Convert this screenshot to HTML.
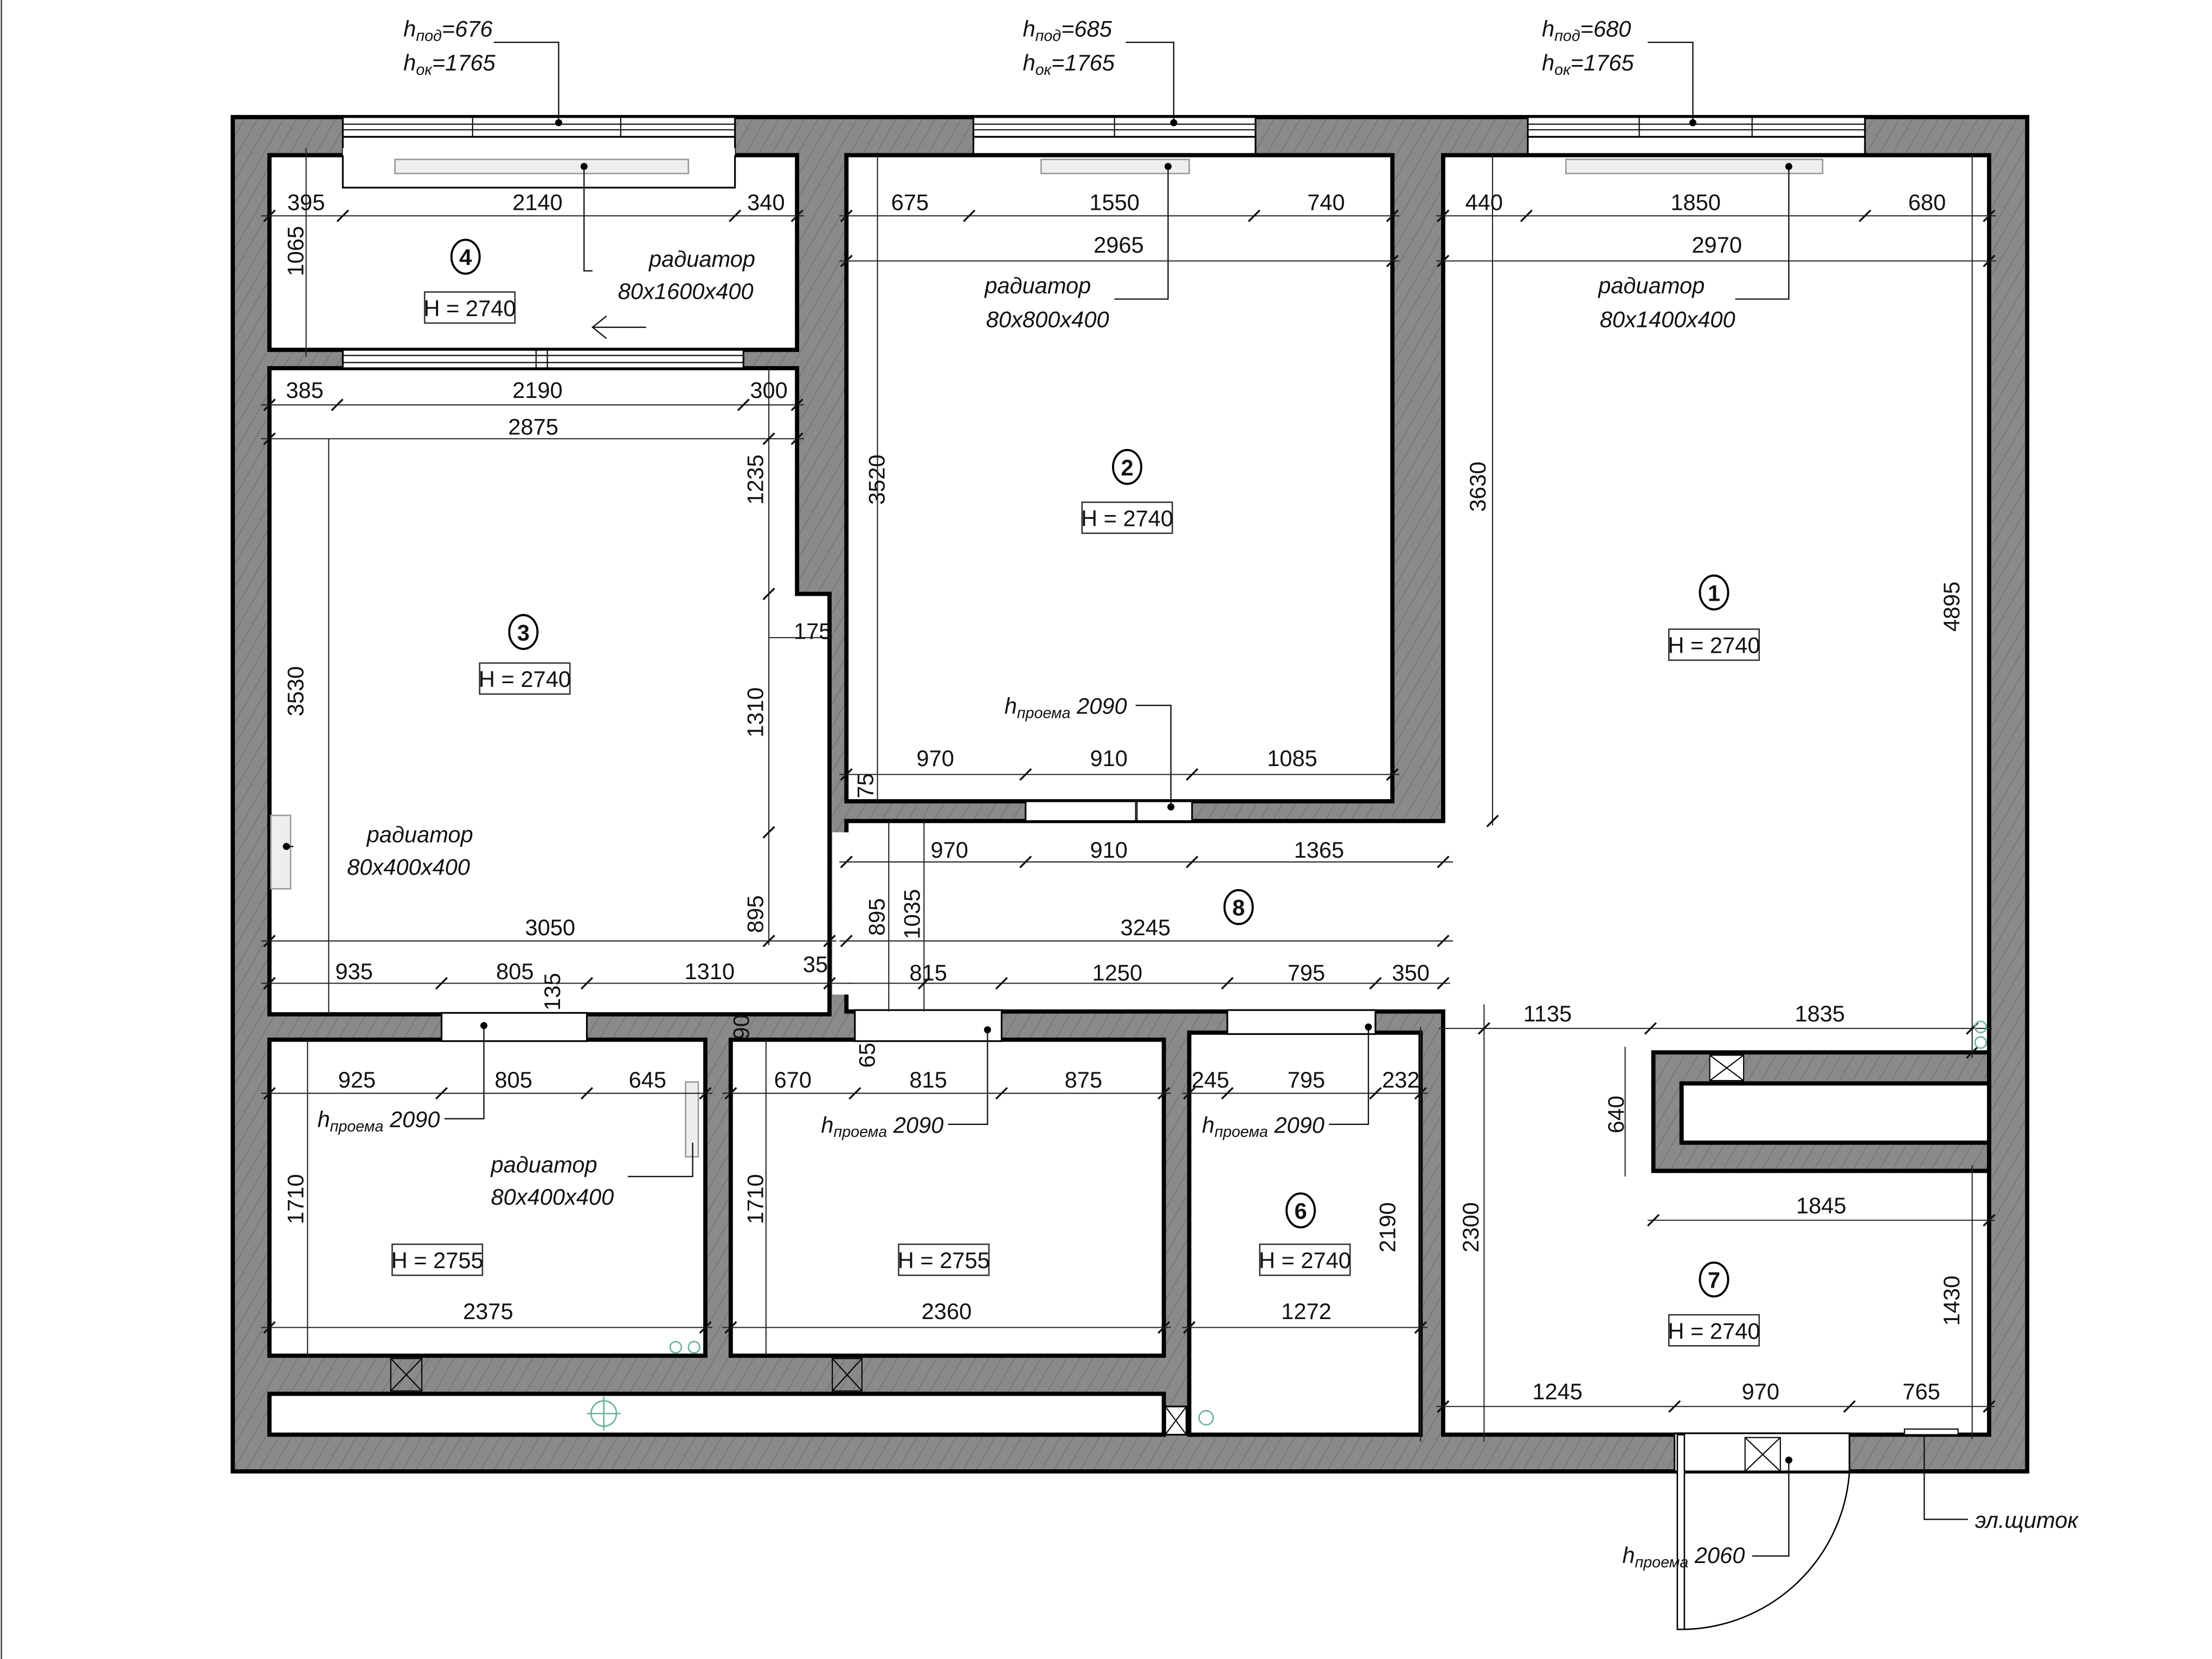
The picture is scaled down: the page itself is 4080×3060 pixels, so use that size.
<!DOCTYPE html>
<html><head><meta charset="utf-8"><style>
html,body{margin:0;padding:0;background:#fff}
svg{display:block}
text{font-family:"Liberation Sans Narrow","Liberation Sans",sans-serif;font-size:16px;fill:#111}
.i{font-style:italic}
.d{stroke:#222;stroke-width:0.8;fill:none}
.t{stroke:#111;stroke-width:1.3}
.w{fill:#fff;stroke:#000;stroke-width:3}
</style></head><body>
<svg width="4080" height="3060" viewBox="0 0 1568 1176" xmlns="http://www.w3.org/2000/svg">
<defs>
<pattern id="h" width="8" height="8" patternUnits="userSpaceOnUse" patternTransform="rotate(30)">
<rect width="8" height="8" fill="#8a8a8a"/><line x1="0" y1="0" x2="0" y2="8" stroke="#6e6e6e" stroke-width="1"/>
</pattern>
</defs>
<line x1="1" y1="0" x2="1" y2="1176" stroke="#444" stroke-width="1"/>
<!-- outer wall mass -->
<rect x="165" y="83" width="1272" height="960" fill="url(#h)" stroke="#000" stroke-width="3"/>
<!-- windows in outer wall -->
<g fill="#fff" stroke="#000" stroke-width="1.2">
<rect x="243" y="83" width="278" height="14"/><rect x="690" y="83" width="200" height="14"/><rect x="1083" y="83" width="239" height="14"/>
<rect x="243" y="97" width="278" height="36"/><rect x="690" y="97" width="200" height="13"/><rect x="1083" y="97" width="239" height="13"/>
</g>
<g stroke="#000" stroke-width="0.8">
<line x1="243" y1="88" x2="521" y2="88"/><line x1="243" y1="92" x2="521" y2="92"/>
<line x1="690" y1="88" x2="890" y2="88"/><line x1="690" y1="92" x2="890" y2="92"/>
<line x1="1083" y1="88" x2="1322" y2="88"/><line x1="1083" y1="92" x2="1322" y2="92"/>
<line x1="335" y1="83" x2="335" y2="97"/><line x1="440" y1="83" x2="440" y2="97"/>
<line x1="790" y1="83" x2="790" y2="97"/><line x1="1162" y1="83" x2="1162" y2="97"/><line x1="1242" y1="83" x2="1242" y2="97"/>
</g>
<!-- rooms -->
<rect class="w" x="191" y="110" width="374" height="138"/>
<rect x="243" y="105" width="278" height="28" fill="#fff"/>
<path d="M243 110 V133 H521 V110" fill="none" stroke="#000" stroke-width="1.2"/>
<polygon class="w" points="191,261 565,261 565,421 588,421 588,719 191,719"/>
<rect class="w" x="600" y="110" width="387" height="458"/>
<polygon class="w" points="1023,110 1410,110 1410,746 1172,746 1172,830 1410,830 1410,1017 1023,1017 1023,717 600,717 600,582 1023,582"/>
<rect x="1174" y="748" width="236" height="80" fill="url(#h)"/>
<rect class="w" x="1192" y="768" width="218" height="42"/>
<line x1="1410" y1="746" x2="1410" y2="830" stroke="#000" stroke-width="3"/>
<rect class="w" x="191" y="737" width="309" height="224"/>
<rect class="w" x="518" y="737" width="307" height="224"/>
<rect class="w" x="843" y="732" width="164" height="285"/>
<rect class="w" x="191" y="988" width="634" height="29"/>
<!-- openings -->
<g fill="#fff" stroke="#000" stroke-width="1.2">
<rect x="243" y="248" width="284" height="13"/>
<rect x="727" y="568" width="118" height="14"/>
<rect x="590" y="590" width="12" height="115" stroke="none"/>
<rect x="313" y="718" width="103" height="20"/>
<rect x="606" y="716" width="104" height="22"/>
<rect x="870" y="716" width="105" height="17"/>
<rect x="1187" y="1016" width="124" height="27"/>
<rect x="826" y="997" width="15" height="20"/>
</g>
<g stroke="#000" stroke-width="0.8" fill="none">
<line x1="243" y1="252" x2="527" y2="252"/><line x1="243" y1="257" x2="527" y2="257"/>
<rect x="380" y="248" width="8" height="13"/><rect x="805" y="568" width="1" height="14"/>
<rect x="277" y="963" width="22" height="23"/><line x1="277" y1="963" x2="299" y2="986"/><line x1="299" y1="963" x2="277" y2="986"/>
<rect x="590" y="963" width="21" height="23"/><line x1="590" y1="963" x2="611" y2="986"/><line x1="611" y1="963" x2="590" y2="986"/>
<rect x="1212" y="748" width="24" height="18" fill="#fff"/><line x1="1212" y1="748" x2="1236" y2="766"/><line x1="1236" y1="748" x2="1212" y2="766"/>
<line x1="826" y1="997" x2="841" y2="1017"/><line x1="841" y1="997" x2="826" y2="1017"/>
<rect x="1237" y="1019" width="25" height="24"/><line x1="1237" y1="1019" x2="1262" y2="1043"/><line x1="1262" y1="1019" x2="1237" y2="1043"/>
<rect x="1189" y="1017" width="5" height="138" fill="#fff" stroke-width="1"/>
<path d="M1311 1043 A120 120 0 0 1 1194 1155" stroke-width="1"/>
<rect x="1350" y="1013" width="38" height="4" fill="#fff"/>
</g>
<!-- radiators -->
<g fill="#eee" stroke="#999" stroke-width="1">
<rect x="280" y="113" width="208" height="10"/><rect x="738" y="113" width="105" height="10"/><rect x="1110" y="113" width="182" height="10"/>
<rect x="192" y="578" width="14" height="52"/><rect x="486" y="767" width="9" height="53"/>
</g>
<!-- leaders -->
<g fill="none" stroke="#111" stroke-width="0.9">
<path d="M350 30 H396 V87"/><path d="M798 30 H832 V87"/><path d="M1168 30 H1200 V87"/>
<path d="M414 118 V192 H420"/><path d="M828 118 V212 H790"/><path d="M1268 118 V212 H1230"/>
<path d="M203 600 H208"/><path d="M491 810 V834 H445"/>
<path d="M805 500 H830 V572"/><path d="M315 793 H343 V727"/><path d="M672 797 H700 V730"/><path d="M942 797 H970 V728"/>
<path d="M1242 1103 H1268 V1035"/><path d="M1364 1017 V1077 H1395"/>
<path d="M458 232 H420 M430 224 L420 232 L430 240"/>
</g>
<g fill="#000">
<circle cx="396" cy="87" r="2.5"/><circle cx="832" cy="87" r="2.5"/><circle cx="1200" cy="87" r="2.5"/>
<circle cx="414" cy="118" r="2.5"/><circle cx="828" cy="118" r="2.5"/><circle cx="1268" cy="118" r="2.5"/>
<circle cx="203" cy="600" r="2.5"/><circle cx="830" cy="572" r="2.5"/><circle cx="343" cy="727" r="2.5"/>
<circle cx="700" cy="730" r="2.5"/><circle cx="970" cy="728" r="2.5"/><circle cx="1268" cy="1035" r="2.5"/>
</g>
<!-- dimension lines -->
<g class="d">
<line x1="185" y1="153" x2="570" y2="153"/><line x1="217" y1="105" x2="217" y2="253"/>
<line x1="185" y1="287" x2="570" y2="287"/><line x1="185" y1="311" x2="570" y2="311"/>
<line x1="545" y1="261" x2="545" y2="670"/><line x1="545" y1="452" x2="590" y2="452"/>
<line x1="185" y1="667" x2="593" y2="667"/><line x1="185" y1="697" x2="605" y2="697"/>
<line x1="595" y1="153" x2="992" y2="153"/><line x1="595" y1="185" x2="992" y2="185"/><line x1="595" y1="549" x2="992" y2="549"/>
<line x1="1018" y1="153" x2="1415" y2="153"/><line x1="1018" y1="185" x2="1415" y2="185"/>
<line x1="1058" y1="110" x2="1058" y2="585"/><line x1="1398" y1="110" x2="1398" y2="750"/>
<line x1="595" y1="611" x2="1030" y2="611"/><line x1="595" y1="667" x2="1030" y2="667"/><line x1="600" y1="697" x2="1028" y2="697"/>
<line x1="630" y1="582" x2="630" y2="717"/><line x1="655" y1="582" x2="655" y2="717"/>
<line x1="1020" y1="729" x2="1412" y2="729"/><line x1="1152" y1="742" x2="1152" y2="834"/>
<line x1="1168" y1="865" x2="1414" y2="865"/><line x1="1398" y1="826" x2="1398" y2="1020"/>
<line x1="1052" y1="712" x2="1052" y2="1022"/><line x1="1018" y1="997" x2="1414" y2="997"/>
<line x1="185" y1="775" x2="505" y2="775"/><line x1="185" y1="941" x2="505" y2="941"/>
<line x1="512" y1="775" x2="830" y2="775"/><line x1="512" y1="941" x2="830" y2="941"/>
<line x1="838" y1="775" x2="1012" y2="775"/><line x1="838" y1="941" x2="1012" y2="941"/>
<line x1="1007" y1="728" x2="1007" y2="1022"/>
<line x1="218" y1="737" x2="218" y2="961"/><line x1="543" y1="737" x2="543" y2="961"/><line x1="233" y1="311" x2="233" y2="719"/>
<line x1="622" y1="110" x2="622" y2="568"/>
</g>
<g class="t">
<path d="M187 157l8-8M239 157l8-8M517 157l8-8M561 157l8-8"/>
<path d="M187 291l8-8M235 291l8-8M523 291l8-8M561 291l8-8M187 315l8-8M561 315l8-8"/>
<path d="M596 157l8-8M683 157l8-8M885 157l8-8M983 157l8-8M596 189l8-8M983 189l8-8"/>
<path d="M1019 157l8-8M1078 157l8-8M1318 157l8-8M1406 157l8-8M1019 189l8-8M1406 189l8-8"/>
<path d="M596 553l8-8M723 553l8-8M841 553l8-8M983 553l8-8"/>
<path d="M596 615l8-8M723 615l8-8M841 615l8-8M1019 615l8-8M596 671l8-8M1019 671l8-8"/>
<path d="M187 671l8-8M584 671l8-8M187 701l8-8M309 701l8-8M412 701l8-8M584 701l8-8"/>
<path d="M651 701l8-8M706 701l8-8M866 701l8-8M971 701l8-8M1019 701l8-8"/>
<path d="M1048 733l8-8M1166 733l8-8M1394 733l8-8M1168 869l8-8M1406 869l8-8"/>
<path d="M1019 1001l8-8M1183 1001l8-8M1307 1001l8-8M1406 1001l8-8"/>
<path d="M187 779l8-8M309 779l8-8M412 779l8-8M496 779l8-8M187 945l8-8M496 945l8-8"/>
<path d="M514 779l8-8M602 779l8-8M706 779l8-8M821 779l8-8M514 945l8-8M821 945l8-8"/>
<path d="M839 779l8-8M866 779l8-8M971 779l8-8M1003 779l8-8M839 945l8-8M1003 945l8-8"/>
<path d="M541 315l8-8M541 425l8-8M541 594l8-8M541 671l8-8M1054 586l8-8M1394 750l8-8"/>
</g>
<!-- dimension texts -->
<g text-anchor="middle">
<text x="217" y="149">395</text><text x="381" y="149">2140</text><text x="543" y="149">340</text>
<text x="216" y="282">385</text><text x="381" y="282">2190</text><text x="545" y="282">300</text>
<text x="378" y="308">2875</text>
<text x="645" y="149">675</text><text x="790" y="149">1550</text><text x="940" y="149">740</text>
<text x="793" y="179">2965</text>
<text x="1052" y="149">440</text><text x="1202" y="149">1850</text><text x="1366" y="149">680</text>
<text x="1217" y="179">2970</text>
<text x="663" y="543">970</text><text x="786" y="543">910</text><text x="916" y="543">1085</text>
<text x="673" y="608">970</text><text x="786" y="608">910</text><text x="935" y="608">1365</text>
<text x="812" y="663">3245</text>
<text x="658" y="695">815</text><text x="792" y="695">1250</text><text x="926" y="695">795</text><text x="1000" y="695">350</text>
<text x="390" y="663">3050</text>
<text x="251" y="694">935</text><text x="365" y="694">805</text><text x="503" y="694">1310</text><text x="578" y="689">35</text>
<text x="576" y="453">175</text>
<text x="1097" y="724">1135</text><text x="1290" y="724">1835</text>
<text x="1291" y="860">1845</text>
<text x="1104" y="992">1245</text><text x="1248" y="992">970</text><text x="1362" y="992">765</text>
<text x="253" y="771">925</text><text x="364" y="771">805</text><text x="459" y="771">645</text>
<text x="346" y="935">2375</text>
<text x="562" y="771">670</text><text x="658" y="771">815</text><text x="768" y="771">875</text>
<text x="671" y="935">2360</text>
<text x="858" y="771">245</text><text x="926" y="771">795</text><text x="993" y="771">232</text>
<text x="926" y="935">1272</text>
</g>
<g text-anchor="middle">
<text transform="translate(215,178) rotate(-90)">1065</text>
<text transform="translate(215,490) rotate(-90)">3530</text>
<text transform="translate(541,340) rotate(-90)">1235</text>
<text transform="translate(541,505) rotate(-90)">1310</text>
<text transform="translate(541,648) rotate(-90)">895</text>
<text transform="translate(627,340) rotate(-90)">3520</text>
<text transform="translate(1053,345) rotate(-90)">3630</text>
<text transform="translate(1389,430) rotate(-90)">4895</text>
<text transform="translate(627,650) rotate(-90)">895</text>
<text transform="translate(652,648) rotate(-90)">1035</text>
<text transform="translate(619,557) rotate(-90)">75</text>
<text transform="translate(397,703) rotate(-90)">135</text>
<text transform="translate(531,728) rotate(-90)">90</text>
<text transform="translate(620,748) rotate(-90)">65</text>
<text transform="translate(1151,790) rotate(-90)">640</text>
<text transform="translate(1389,922) rotate(-90)">1430</text>
<text transform="translate(1048,870) rotate(-90)">2300</text>
<text transform="translate(989,870) rotate(-90)">2190</text>
<text transform="translate(215,850) rotate(-90)">1710</text>
<text transform="translate(541,850) rotate(-90)">1710</text>
</g>
<!-- room numbers -->
<g fill="#fff" stroke="#000" stroke-width="1.5">
<ellipse cx="330" cy="182" rx="10" ry="12"/><ellipse cx="371" cy="448" rx="10" ry="12"/>
<ellipse cx="799" cy="331" rx="10" ry="12"/><ellipse cx="1215" cy="420" rx="10" ry="12"/>
<ellipse cx="878" cy="643" rx="10" ry="12"/><ellipse cx="922" cy="858" rx="10" ry="12"/>
<ellipse cx="1215" cy="907" rx="10" ry="12"/>
</g>
<g text-anchor="middle" font-weight="bold">
<text x="330" y="188">4</text><text x="371" y="454">3</text><text x="799" y="337">2</text>
<text x="1215" y="426">1</text><text x="878" y="649">8</text><text x="922" y="864">6</text><text x="1215" y="913">7</text>
</g>
<g fill="#fff" stroke="#333" stroke-width="1">
<rect x="301" y="207" width="64" height="22"/><rect x="340" y="470" width="64" height="22"/>
<rect x="767" y="356" width="64" height="22"/><rect x="1183" y="446" width="64" height="22"/>
<rect x="893" y="882" width="64" height="22"/><rect x="1183" y="932" width="64" height="22"/>
<rect x="278" y="882" width="64" height="22"/><rect x="637" y="882" width="64" height="22"/>
</g>
<g text-anchor="middle">
<text x="333" y="224">H = 2740</text><text x="372" y="487">H = 2740</text>
<text x="799" y="373">H = 2740</text><text x="1215" y="463">H = 2740</text>
<text x="925" y="899">H = 2740</text><text x="1215" y="949">H = 2740</text>
<text x="310" y="899">H = 2755</text><text x="669" y="899">H = 2755</text>
</g>
<!-- italic notes -->
<g class="i">
<text x="286" y="26">h<tspan font-size="11" dy="3">под</tspan><tspan dy="-3">=676</tspan></text>
<text x="286" y="50">h<tspan font-size="11" dy="3">ок</tspan><tspan dy="-3">=1765</tspan></text>
<text x="725" y="26">h<tspan font-size="11" dy="3">под</tspan><tspan dy="-3">=685</tspan></text>
<text x="725" y="50">h<tspan font-size="11" dy="3">ок</tspan><tspan dy="-3">=1765</tspan></text>
<text x="1093" y="26">h<tspan font-size="11" dy="3">под</tspan><tspan dy="-3">=680</tspan></text>
<text x="1093" y="50">h<tspan font-size="11" dy="3">ок</tspan><tspan dy="-3">=1765</tspan></text>
<text x="460" y="189">радиатор</text><text x="438" y="212">80x1600x400</text>
<text x="698" y="208">радиатор</text><text x="699" y="232">80x800x400</text>
<text x="1133" y="208">радиатор</text><text x="1134" y="232">80x1400x400</text>
<text x="260" y="597">радиатор</text><text x="246" y="620">80x400x400</text>
<text x="348" y="831">радиатор</text><text x="348" y="854">80x400x400</text>
<text x="712" y="506">h<tspan font-size="11" dy="3">проема</tspan><tspan dy="-3"> 2090</tspan></text>
<text x="225" y="799">h<tspan font-size="11" dy="3">проема</tspan><tspan dy="-3"> 2090</tspan></text>
<text x="582" y="803">h<tspan font-size="11" dy="3">проема</tspan><tspan dy="-3"> 2090</tspan></text>
<text x="852" y="803">h<tspan font-size="11" dy="3">проема</tspan><tspan dy="-3"> 2090</tspan></text>
<text x="1150" y="1108">h<tspan font-size="11" dy="3">проема</tspan><tspan dy="-3"> 2060</tspan></text>
<text x="1400" y="1083">эл.щиток</text>
</g>
<!-- small symbols -->
<g fill="none" stroke="#6ab0a0" stroke-width="1">
<circle cx="428" cy="1002" r="9"/><line x1="416" y1="1002" x2="440" y2="1002"/><line x1="428" y1="990" x2="428" y2="1014"/>
<circle cx="479" cy="955" r="4"/><circle cx="492" cy="955" r="4"/><circle cx="855" cy="1005" r="5"/><circle cx="1404" cy="728" r="4"/><circle cx="1404" cy="739" r="4"/>
</g>
</svg>
</body></html>
